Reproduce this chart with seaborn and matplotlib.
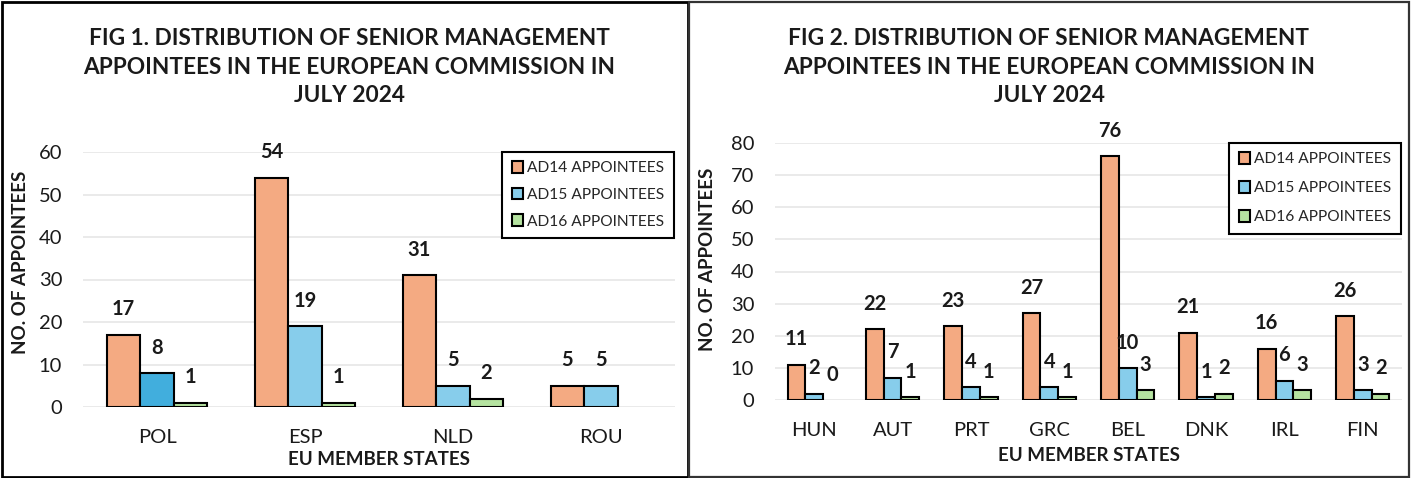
import numpy as np
import pandas as pd
import matplotlib
matplotlib.use("Agg")
import matplotlib.pyplot as plt
from matplotlib.patches import Rectangle
import seaborn as sns

# ---------------- data ----------------
left_countries = ["POL", "ESP", "NLD", "ROU"]
left_ad14 = [17, 54, 31, 5]
left_ad15 = [8, 19, 5, 5]
left_ad16 = [1, 1, 2, np.nan]

right_countries = ["HUN", "AUT", "PRT", "GRC", "BEL", "DNK", "IRL", "FIN"]
right_ad14 = [11, 22, 23, 27, 76, 21, 16, 26]
right_ad15 = [2, 7, 4, 4, 10, 1, 6, 3]
right_ad16 = [0, 1, 1, 1, 3, 2, 3, 2]

series_names = ["AD14 APPOINTEES", "AD15 APPOINTEES", "AD16 APPOINTEES"]
series_colors = ["#F4AA82", "#87CDEB", "#B5E3A0"]

left_title = "FIG 1. DISTRIBUTION OF SENIOR MANAGEMENT\nAPPOINTEES IN THE EUROPEAN COMMISSION IN\nJULY 2024"
right_title = "FIG 2. DISTRIBUTION OF SENIOR MANAGEMENT\nAPPOINTEES IN THE EUROPEAN COMMISSION IN\nJULY 2024"
x_label = "EU MEMBER STATES"
y_label = "NO. OF APPOINTEES"
left_yticks = [0, 10, 20, 30, 40, 50, 60]
right_yticks = [0, 10, 20, 30, 40, 50, 60, 70, 80]


def long_df(countries, a, b, c):
    rows = []
    for name, vals in zip(series_names, [a, b, c]):
        for ctry, v in zip(countries, vals):
            rows.append({"country": ctry, "grade": name, "value": v})
    return pd.DataFrame(rows).dropna()


sns.set_style("white")
plt.rcParams["font.family"] = ["Lato", "DejaVu Sans"]

W, H = 1411, 478
fig = plt.figure(figsize=(W / 100, H / 100), dpi=100)

ax1 = fig.add_axes([83 / W, (H - 407) / H, 592 / W, 255 / H])
ax2 = fig.add_axes([775 / W, (H - 400) / H, 627 / W, 257 / H])


def draw(ax, countries, a, b, c, yticks, xlab_y, ylab_x, ylab_y, legend_spacing):
    df = long_df(countries, a, b, c)
    sns.barplot(data=df, x="country", y="value", hue="grade", order=countries,
                hue_order=series_names, palette=series_colors, width=0.68,
                edgecolor="black", linewidth=1.5, saturation=1, ax=ax,
                errorbar=None)
    for cont in ax.containers:
        for rect in cont.patches:
            if rect.get_height() == 0:
                rect.set_linewidth(0)
        ax.bar_label(cont, fmt="%g", padding=11, fontsize=14.5, fontweight="bold",
                     color="#1a1a1a")
    ax.set_ylim(0, yticks[-1])
    ax.set_yticks(yticks)
    ax.set_xlim(-0.5, len(countries) - 0.5)
    ax.yaxis.grid(True, color="#E8E8E8", linewidth=1.3)
    ax.set_axisbelow(True)
    for s in ax.spines.values():
        s.set_visible(False)
    ax.tick_params(axis="y", length=0, pad=15, labelsize=14.5, labelcolor="#1a1a1a")
    ax.tick_params(axis="x", length=0, pad=16, labelsize=14.5, labelcolor="#1a1a1a")
    ax.set_xlabel(x_label, fontsize=13.5, fontweight="bold", color="#1a1a1a")
    ax.xaxis.set_label_coords(0.5, xlab_y)
    ax.set_ylabel(y_label, fontsize=13.5, fontweight="bold", color="#1a1a1a")
    ax.yaxis.set_label_coords(ylab_x, ylab_y)
    handles, labels = ax.get_legend_handles_labels()
    leg = ax.legend(handles, labels, loc="upper right", bbox_to_anchor=(0.998, 1.0),
                    borderaxespad=0, frameon=True, fancybox=False, framealpha=1,
                    edgecolor="black", fontsize=11.2, handlelength=0.75,
                    handleheight=0.75, handletextpad=0.25,
                    labelspacing=legend_spacing, borderpad=0.6)
    leg.get_frame().set_linewidth(1.5)
    return ax


draw(ax1, left_countries, left_ad14, left_ad15, left_ad16, left_yticks,
     -0.173, -0.091, 0.569, 0.8)
draw(ax2, right_countries, right_ad14, right_ad15, right_ad16, right_yticks,
     -0.183, -0.094, 0.549, 0.95)

# darker highlight on POL AD15 bar
ax1.containers[1].patches[0].set_facecolor("#41AEDD")

fig.text(349 / W, 1 - 28 / H, left_title, ha="center", va="top", fontsize=16.3,
         fontweight="bold", linespacing=1.45, color="#1a1a1a")
fig.text(1049 / W, 1 - 28 / H, right_title, ha="center", va="top", fontsize=16.3,
         fontweight="bold", linespacing=1.45, color="#1a1a1a")

# panel borders
fig.add_artist(Rectangle((1.5 / W, 1.5 / H), 686 / W, 475 / H, transform=fig.transFigure,
                         fill=False, edgecolor="black", linewidth=2))
fig.add_artist(Rectangle((688.5 / W, 1.5 / H), 721 / W, 475 / H, transform=fig.transFigure,
                         fill=False, edgecolor="#333333", linewidth=1.6))

fig.savefig("out.png", dpi=100)
